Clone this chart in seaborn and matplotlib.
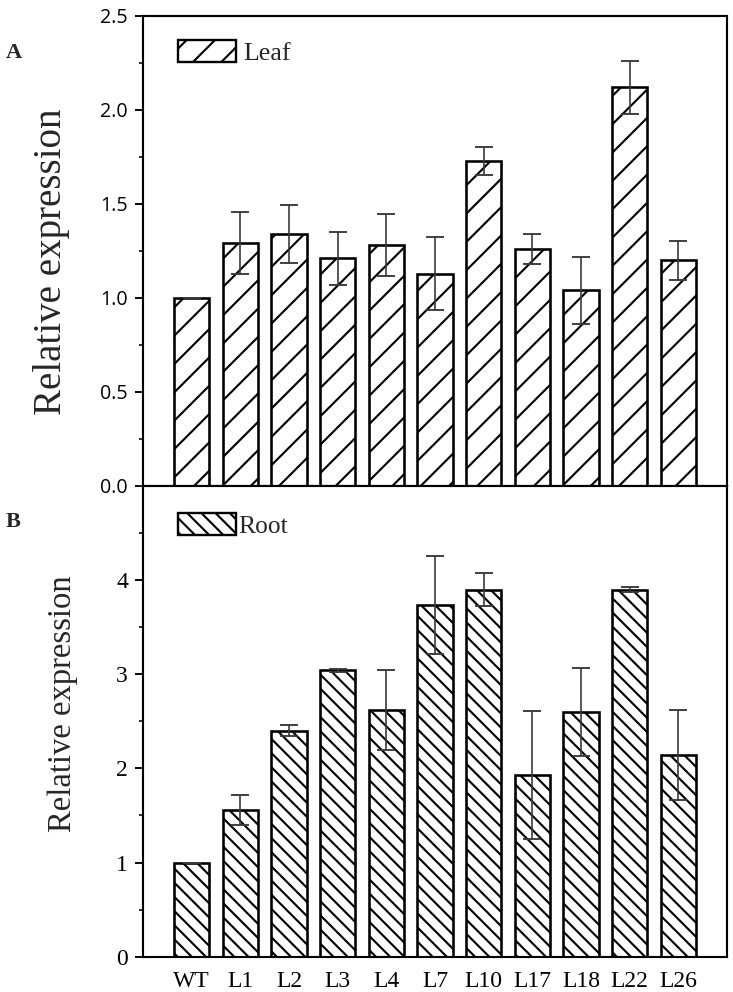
import numpy as np
import pandas as pd
import seaborn as sns
import matplotlib.pyplot as plt
from matplotlib.patches import Patch
from matplotlib.ticker import MultipleLocator

# values
lines = ['WT', 'L1', 'L2', 'L3', 'L4', 'L7', 'L10', 'L17', 'L18', 'L22', 'L26']
leaf_mean = [1.00, 1.29, 1.34, 1.21, 1.28, 1.13, 1.73, 1.26, 1.04, 2.12, 1.20]
leaf_err = [0.0, 0.165, 0.155, 0.14, 0.165, 0.195, 0.075, 0.08, 0.18, 0.143, 0.105]
root_mean = [1.00, 1.56, 2.40, 3.04, 2.62, 3.74, 3.90, 1.93, 2.60, 3.90, 2.14]
root_err = [0.0, 0.16, 0.06, 0.015, 0.42, 0.52, 0.175, 0.68, 0.47, 0.03, 0.48]

DPI = 170
sns.set_theme(style='ticks')
plt.rcParams['font.family'] = ['Liberation Serif', 'DejaVu Serif']
plt.rcParams['hatch.linewidth'] = 0.9
plt.rcParams['hatch.color'] = 'black'
plt.rcParams['axes.linewidth'] = 0.9

leaf = pd.DataFrame({'line': lines, 'value': leaf_mean, 'err': leaf_err})
root = pd.DataFrame({'line': lines, 'value': root_mean, 'err': root_err})

fig = plt.figure(figsize=(733 / DPI, 992 / DPI), dpi=DPI)
ax_a = fig.add_axes([0.1951, 0.5101, 0.7967, 0.4738])
ax_b = fig.add_axes([0.1951, 0.0356, 0.7967, 0.4745])


def draw_panel(ax, df, hatch, label, ymax, legend_y, text_pad):
    sns.barplot(data=df, x='line', y='value', ax=ax, color='white',
                edgecolor='black', linewidth=1.1, width=0.72,
                hatch=hatch, errorbar=None, saturation=1)
    ax.errorbar(np.arange(len(df)), df['value'], yerr=df['err'], fmt='none',
                ecolor='#3a3a3a', elinewidth=0.7, capsize=3.8, capthick=0.8)
    ax.set_xlim(-1, len(df))
    ax.set_ylim(0, ymax)
    ax.set_xlabel('')
    for side in ['top', 'right', 'left', 'bottom']:
        ax.spines[side].set_visible(True)
        ax.spines[side].set_linewidth(0.9)
        ax.spines[side].set_color('black')
    ax.tick_params(axis='y', which='major', direction='out', length=3.4,
                   width=0.8, pad=3, colors='black')
    ax.tick_params(axis='y', which='minor', direction='out', length=1.6,
                   width=0.8, left=True)
    handle = Patch(facecolor='white', edgecolor='black', linewidth=1.0, hatch=hatch)
    ax.legend([handle], [label], loc='upper left', bbox_to_anchor=(0.06, legend_y),
              frameon=False, borderpad=0, borderaxespad=0, fontsize=11,
              handlelength=2.25, handleheight=0.95, handletextpad=text_pad)


draw_panel(ax_a, leaf, '//', 'Leaf', 2.5, 0.949, 0.25)
ax_a.yaxis.set_major_locator(MultipleLocator(0.5))
ax_a.yaxis.set_minor_locator(MultipleLocator(0.25))
ax_a.set_yticks(np.arange(0, 2.51, 0.5))
ax_a.set_yticklabels([f'{v:.1f}' for v in np.arange(0, 2.51, 0.5)],
                     family='Open Sans', fontsize=8.3)
ax_a.tick_params(axis='x', bottom=False, labelbottom=False)
ax_a.set_ylabel('Relative expression', fontsize=16.5)
ax_a.yaxis.set_label_coords(-0.125, 0.477)

draw_panel(ax_b, root, '\\\\\\\\', 'Root', 5, 0.943, 0.05)
ax_b.set_yticks(np.arange(0, 5, 1))
ax_b.yaxis.set_minor_locator(MultipleLocator(0.5))
ax_b.set_yticklabels([str(v) for v in range(5)], fontsize=10)
ax_b.tick_params(axis='x', length=0, pad=6, labelsize=10, colors='black')
ax_b.set_ylabel('Relative expression', fontsize=13.8)
ax_b.yaxis.set_label_coords(-0.111, 0.537)
ax_b.get_legend().get_texts()[0].set_fontsize(10.8)

fig.text(14 / 733, 1 - 53 / 992, 'A', fontsize=9.5, fontweight='bold',
         ha='center', va='center')
fig.text(13 / 733, 1 - 522 / 992, 'B', fontsize=9.5, fontweight='bold',
         ha='center', va='center')

fig.savefig('out.png', dpi=DPI)
